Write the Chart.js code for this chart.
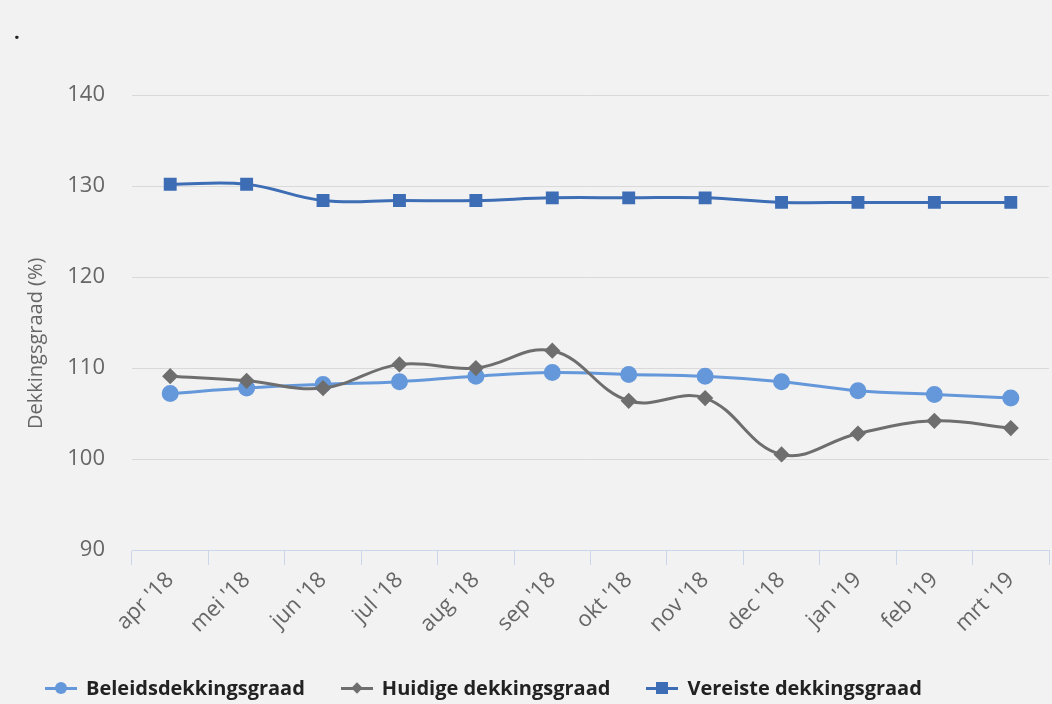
<!DOCTYPE html>
<html>
<head>
<meta charset="utf-8">
<script src="https://cdn.jsdelivr.net/npm/chart.js@4/dist/chart.umd.min.js"></script>
<style>
  html, body { margin: 0; padding: 0; background: #f2f2f2; overflow: hidden; }
  #wrap { position: relative; width: 1052px; height: 704px; overflow: hidden; }
  #dot { position: absolute; left: 14px; top: 18px; font: bold 20px 'Open Sans'; color: #222; }
  #legend { position: absolute; left: 45px; top: 674px; display: flex; font: bold 20px 'Open Sans'; color: #222; }
  .item { display: flex; align-items: center; margin-right: 36px; }
  .mk { position: relative; width: 32px; height: 20px; margin-right: 9px; }
  .mk .ln { position: absolute; left: 0; right: 0; top: 9px; height: 3px; }
  .mk .pt { position: absolute; left: 50%; top: 50%; transform: translate(-50%, -50%); }
</style>
</head>
<body>
<div id="wrap">
  <canvas id="myChart" width="1059" height="704"></canvas>
  <div id="dot">.</div>
  <div id="legend"></div>
</div>
<script>
const months = ["apr '18", "mei '18", "jun '18", "jul '18", "aug '18", "sep '18",
    "okt '18", "nov '18", "dec '18", "jan '19", "feb '19", "mrt '19"];
const beleids = [107.2, 107.8, 108.2, 108.5, 109.1, 109.5, 109.3, 109.1, 108.5, 107.5, 107.1, 106.7];
const huidige = [109.1, 108.6, 107.8, 110.4, 110.0, 111.9, 106.4, 106.7, 100.5, 102.8, 104.2, 103.4];
const vereiste = [130.2, 130.2, 128.4, 128.4, 128.4, 128.7, 128.7, 128.7, 128.2, 128.2, 128.2, 128.2];
const seriesNames = ['Beleidsdekkingsgraad', 'Huidige dekkingsgraad', 'Vereiste dekkingsgraad'];

const ctx = document.getElementById('myChart').getContext('2d');

const chart = new Chart(ctx, {
    type: 'line',
    data: {
        labels: months,
        datasets: [
            {
                label: seriesNames[0],
                data: beleids,
                borderColor: '#6598da',
                backgroundColor: '#6598da',
                pointStyle: 'circle',
                pointRadius: 7,
                borderWidth: 3,
                tension: 0.4,
                order: 2
            },
            {
                label: seriesNames[1],
                data: huidige,
                borderColor: '#6e6e6e',
                backgroundColor: '#6e6e6e',
                pointStyle: 'rectRot',
                pointRadius: 6,
                borderWidth: 3,
                tension: 0.4,
                order: 1
            },
            {
                label: seriesNames[2],
                data: vereiste,
                borderColor: '#3d6db5',
                backgroundColor: '#3d6db5',
                pointStyle: 'rect',
                pointRadius: 7,
                borderWidth: 3,
                tension: 0.4,
                order: 0
            }
        ]
    },
    options: {
        responsive: false,
        animation: false,
        layout: {
            padding: { top: 95, right: 2, bottom: 64, left: 20 }
        },
        scales: {
            y: {
                min: 90,
                max: 140,
                ticks: {
                    stepSize: 10,
                    color: '#666',
                    padding: 27,
                    font: { family: 'Open Sans', size: 22 }
                },
                grid: {
                    color: '#d9d9d9',
                    drawTicks: false
                },
                border: { display: false },
                title: {
                    display: true,
                    text: 'Dekkingsgraad (%)        ',
                    color: '#666',
                    padding: { top: 4, bottom: 0 },
                    font: { family: 'Open Sans', size: 20 }
                },
                // fixed axis width so the plot starts where the original does
                afterFit: function (scale) {
                    scale.width = 112;
                }
            },
            x: {
                offset: true,
                ticks: {
                    color: '#666',
                    maxRotation: 45,
                    minRotation: 45,
                    padding: 2,
                    font: { family: 'Open Sans', size: 22 }
                },
                grid: {
                    offset: true,
                    drawOnChartArea: false,
                    color: '#ccd6eb',
                    tickLength: 15
                },
                border: { color: '#ccd6eb', width: 1 }
            }
        },
        plugins: {
            legend: { display: false },
            tooltip: { enabled: false }
        }
    }
});

// legend built from the chart datasets
const legendEl = document.getElementById('legend');
chart.data.datasets.forEach(ds => {
    const item = document.createElement('div');
    item.className = 'item';
    let ptCss;
    if (ds.pointStyle === 'circle') {
        ptCss = 'width:12px;height:12px;border-radius:50%;';
    } else if (ds.pointStyle === 'rectRot') {
        ptCss = 'width:8px;height:8px;transform:translate(-50%,-50%) rotate(45deg);';
    } else {
        ptCss = 'width:12px;height:12px;';
    }
    item.innerHTML =
        '<span class="mk"><span class="ln" style="background:' + ds.borderColor + '"></span>' +
        '<span class="pt" style="background:' + ds.borderColor + ';' + ptCss + '"></span></span>' +
        '<span>' + ds.label + '</span>';
    legendEl.appendChild(item);
});
</script>
</body>
</html>
